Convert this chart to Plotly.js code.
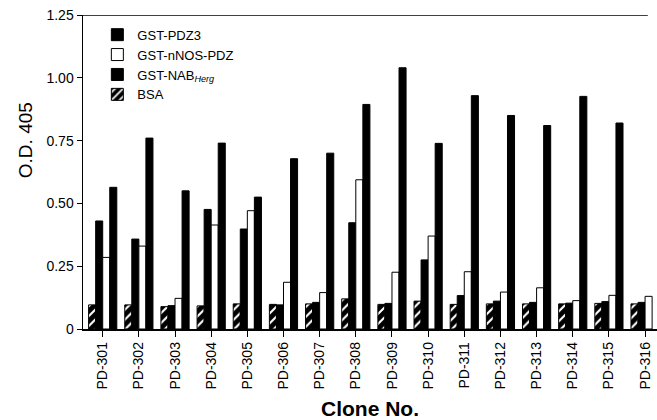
<!DOCTYPE html>
<html>
<head>
<meta charset="utf-8">
<script src="https://cdn.plot.ly/plotly-3.0.1.min.js"></script>
<style>html,body{margin:0;padding:0;background:#fff;}#chart{width:657px;height:420px;}</style>
</head>
<body>
<div id="chart"></div>
<script>
var clones = ["PD-301","PD-302","PD-303","PD-304","PD-305","PD-306","PD-307","PD-308","PD-309","PD-310","PD-311","PD-312","PD-313","PD-314","PD-315","PD-316"];
var bsa     = [0.096,0.096,0.089,0.092,0.100,0.098,0.100,0.120,0.098,0.111,0.098,0.100,0.100,0.100,0.102,0.100];
var pdz3    = [0.430,0.358,0.093,0.476,0.398,0.096,0.106,0.423,0.102,0.275,0.133,0.111,0.106,0.103,0.109,0.106];
var nnos    = [0.285,0.330,0.122,0.414,0.471,0.186,0.145,0.594,0.226,0.370,0.228,0.147,0.164,0.113,0.134,0.130];
var nabHerg = [0.564,0.760,0.550,0.740,0.525,0.678,0.700,0.894,1.040,0.739,0.929,0.850,0.810,0.926,0.820,null];
var yTickVals = [0, 0.25, 0.5, 0.75, 1.0, 1.25];
var yTickText = ["0", "0.25", "0.50", "0.75", "1.00", "1.25"];

var idx = clones.map(function(_, i){ return i; });
var font = "Liberation Sans, Arial, Helvetica, sans-serif";
var line = {color: "black", width: 1};

var traces = [
  {name: "BSA", x: idx, y: bsa, type: "bar", legendrank: 4,
   marker: {color: "black", line: line,
            pattern: {shape: "/", bgcolor: "black", fgcolor: "white", size: 7, solidity: 0.3}}},
  {name: "GST-PDZ3", x: idx, y: pdz3, type: "bar", legendrank: 1,
   marker: {color: "black", line: line}},
  {name: "GST-nNOS-PDZ", x: idx, y: nnos, type: "bar", legendrank: 2,
   marker: {color: "white", line: line}},
  {name: "GST-NAB<sub><i>Herg</i></sub>", x: idx, y: nabHerg, type: "bar", legendrank: 3,
   marker: {color: "black", line: line}}
];

var layout = {
  width: 657, height: 420,
  margin: {l: 83, r: 0, t: 15, b: 91},
  paper_bgcolor: "white", plot_bgcolor: "white",
  font: {family: font, color: "black", size: 13},
  barmode: "group", bargap: 0.22, bargroupgap: 0,
  showlegend: true,
  legend: {x: 0.025, y: 0.985, xanchor: "left", yanchor: "top",
           bgcolor: "rgba(0,0,0,0)", font: {size: 13, family: font},
           tracegroupgap: 0, itemwidth: 30},
  xaxis: {
    range: [-0.545, 15.33], tickmode: "array", tickvals: idx, ticktext: clones,
    tickangle: -90, ticks: "outside", ticklen: 6, tickwidth: 1, tickcolor: "black",
    showline: true, linecolor: "black", linewidth: 1.5, showgrid: false, zeroline: false,
    tickfont: {size: 14, family: font},
    title: {text: "<b>Clone No.</b>", font: {size: 21, family: font}, standoff: 12}
  },
  yaxis: {
    range: [0, 1.25], tickmode: "array", tickvals: yTickVals, ticktext: yTickText,
    ticks: "outside", ticklen: 5, tickwidth: 1, tickcolor: "black",
    showline: true, linecolor: "black", linewidth: 1.5, showgrid: false, zeroline: false,
    tickfont: {size: 14, family: font}
  },
  shapes: [
    {type: "line", xref: "paper", yref: "y", x0: 0, x1: 0.984, y0: 1.25, y1: 1.25,
     line: {color: "black", width: 1.5}}
  ],
  annotations: [
    {text: "O.D. 405", xref: "paper", yref: "paper", x: -0.1, y: 0.6, showarrow: false,
     textangle: -90, xanchor: "center", yanchor: "middle", font: {size: 19, family: font}}
  ]
};

Plotly.newPlot("chart", traces, layout, {displayModeBar: false, staticPlot: true});
</script>
</body>
</html>
